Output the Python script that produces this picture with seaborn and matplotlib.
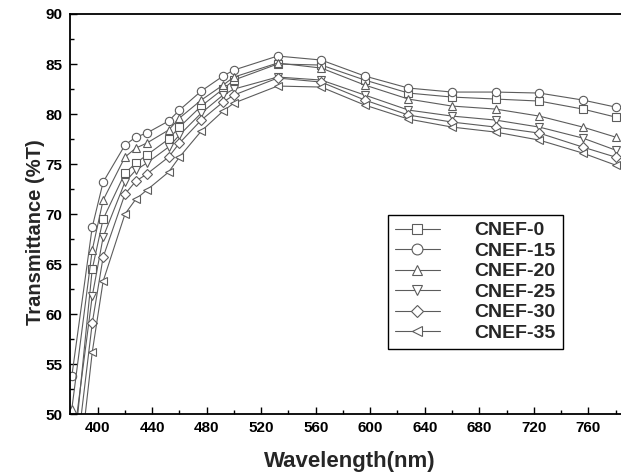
import pandas as pd
import numpy as np
import matplotlib
matplotlib.use("Agg")
import matplotlib.pyplot as plt
import seaborn as sns
from matplotlib.ticker import MultipleLocator

# 数据
wavelength = [381, 396, 404, 420, 428, 436, 452, 460, 476, 492, 500,
              532, 564, 596, 628, 660, 692, 724, 756, 780]

series_names = ["CNEF-0", "CNEF-15", "CNEF-20", "CNEF-25", "CNEF-30", "CNEF-35"]

cnef_0 = [44.0, 64.5, 69.5, 74.1, 75.1, 75.9, 77.5, 78.7, 80.8, 82.5, 83.4,
          85.0, 84.9, 83.4, 82.1, 81.7, 81.5, 81.3, 80.5, 79.7]
cnef_15 = [53.8, 68.7, 73.2, 76.9, 77.7, 78.1, 79.3, 80.4, 82.3, 83.8, 84.4,
           85.8, 85.4, 83.8, 82.6, 82.2, 82.2, 82.1, 81.4, 80.7]
cnef_20 = [50.5, 66.4, 71.4, 75.7, 76.6, 77.1, 78.4, 79.6, 81.4, 82.9, 83.7,
           85.1, 84.6, 82.9, 81.5, 80.8, 80.5, 79.8, 78.7, 77.7]
cnef_25 = [46.0, 61.8, 67.7, 73.2, 74.4, 75.1, 76.7, 77.9, 80.1, 81.9, 82.5,
           83.7, 83.4, 81.9, 80.4, 79.8, 79.4, 78.7, 77.6, 76.4]
cnef_30 = [42.0, 59.1, 65.7, 72.0, 73.3, 74.0, 75.7, 77.1, 79.4, 81.2, 81.9,
           83.6, 83.2, 81.4, 79.9, 79.2, 78.7, 78.1, 76.7, 75.7]
cnef_35 = [38.0, 56.2, 63.3, 70.0, 71.5, 72.4, 74.2, 75.7, 78.3, 80.3, 81.1,
           82.8, 82.7, 80.9, 79.5, 78.7, 78.2, 77.4, 76.1, 74.9]

marker_map = {"CNEF-0": "s", "CNEF-15": "o", "CNEF-20": "^",
              "CNEF-25": "v", "CNEF-30": "D", "CNEF-35": "<"}

# 整理成长表
wide = pd.DataFrame({"wavelength": wavelength,
                     "CNEF-0": cnef_0, "CNEF-15": cnef_15, "CNEF-20": cnef_20,
                     "CNEF-25": cnef_25, "CNEF-30": cnef_30, "CNEF-35": cnef_35})
df = wide.melt(id_vars="wavelength", var_name="sample", value_name="T")

sns.set_style("ticks")
plt.rcParams["font.family"] = ["Liberation Sans", "DejaVu Sans"]
plt.rcParams["font.weight"] = "bold"

line_gray = "#5c5c5c"

fig = plt.figure(figsize=(6.21, 4.76), dpi=100)
ax = fig.add_axes([0.1134, 0.1296, 0.8866, 0.841])

sns.lineplot(data=df, x="wavelength", y="T", hue="sample", style="sample",
             hue_order=series_names, style_order=series_names,
             markers=marker_map, dashes=False, palette=[line_gray] * 6,
             errorbar=None, legend=False, ax=ax,
             linewidth=0.8, markersize=6, markerfacecolor="white",
             markeredgecolor=line_gray, markeredgewidth=0.8)

# 菱形标记稍小一些
for line in ax.get_lines():
    if line.get_marker() == "D":
        line.set_markersize(4.8)

ax.set_xlim(380, 784)
ax.set_ylim(50, 90)
ax.xaxis.set_major_locator(MultipleLocator(40))
ax.xaxis.set_minor_locator(MultipleLocator(20))
ax.yaxis.set_major_locator(MultipleLocator(5))
ax.yaxis.set_minor_locator(MultipleLocator(2.5))
ax.tick_params(which="both", direction="in", top=False, right=False,
               width=1.0, colors="black")
ax.tick_params(which="major", length=5, labelsize=11)
ax.tick_params(which="minor", length=3)
ax.tick_params(axis="x", pad=5)
ax.tick_params(axis="y", pad=6)
for lab in ax.get_xticklabels() + ax.get_yticklabels():
    lab.set_fontweight("bold")

for side in ["left", "bottom", "top"]:
    ax.spines[side].set_linewidth(1.3)
    ax.spines[side].set_color("black")
ax.spines["right"].set_visible(False)

ax.set_xlabel("Wavelength(nm)", fontsize=16, fontweight="bold")
ax.set_ylabel("Transmittance (%T)", fontsize=14.5, fontweight="bold")
ax.xaxis.set_label_coords(0.507, -0.092)
ax.yaxis.set_label_coords(-0.046, 0.455)

handles = ax.get_lines()[:len(series_names)]
leg = ax.legend(handles, series_names, loc="upper left",
                bbox_to_anchor=(0.577, 0.498), borderaxespad=0,
                frameon=True, fancybox=False, edgecolor="black", framealpha=1,
                prop={"weight": "bold", "size": 14}, handlelength=2.3,
                handletextpad=1.8, labelspacing=0.15, borderpad=0.35,
                markerscale=1.3)
leg.get_frame().set_linewidth(1.0)

fig.savefig("out.png", dpi=100)
